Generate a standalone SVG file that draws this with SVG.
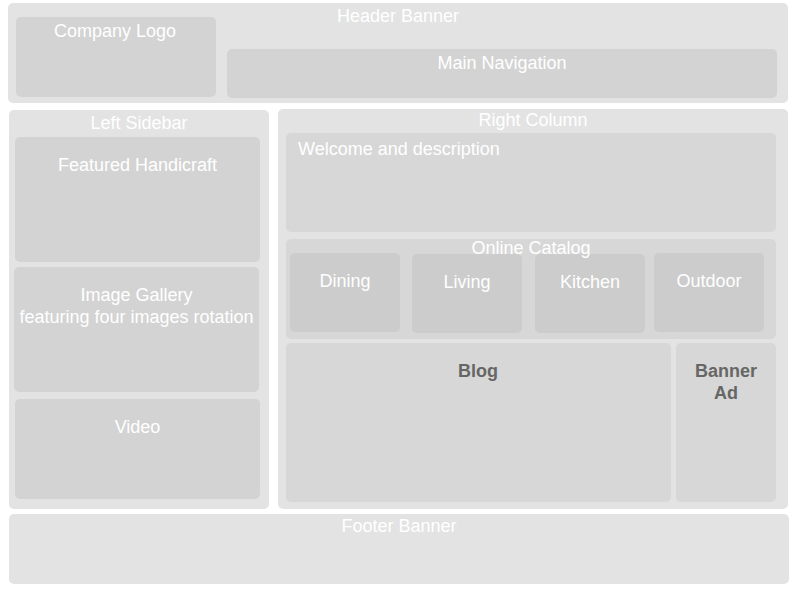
<svg xmlns="http://www.w3.org/2000/svg" width="800" height="599" viewBox="0 0 800 599">
<style>
.outer{fill:#e3e3e3}
.inner{fill:#d3d3d3}
.inner2{fill:#d7d7d7}
.item{fill:#cccccc}
text{font-family:"Liberation Sans",Arial,sans-serif;font-size:18px;fill:#ffffff;text-anchor:middle}
.dark{fill:#666666;font-weight:bold}
</style>
<rect width="800" height="599" fill="#ffffff"/>
<g id="header">
<rect class="outer" x="8" y="3" width="780" height="100" rx="5"/>
<text x="398" y="22">Header Banner</text>
</g>
<g id="logo">
<rect class="inner" x="16" y="17" width="200" height="80" rx="5"/>
<text x="115" y="37">Company Logo</text>
</g>
<g id="nav">
<rect class="inner" x="227" y="49" width="550" height="49" rx="5"/>
<text x="502" y="69">Main Navigation</text>
</g>
<g id="sidebar">
<rect class="outer" x="9" y="110" width="260" height="399" rx="5"/>
<text x="139" y="129">Left Sidebar</text>
</g>
<g id="featured">
<rect class="inner" x="15" y="137" width="245" height="125" rx="5"/>
<text x="137.5" y="171">Featured Handicraft</text>
</g>
<g id="gallery">
<rect class="inner" x="14" y="267" width="245" height="125" rx="5"/>
<text x="136.5" y="300.5">Image Gallery</text>
<text x="136.5" y="322.5">featuring four images rotation</text>
</g>
<g id="video">
<rect class="inner" x="15" y="399" width="245" height="100" rx="5"/>
<text x="137.5" y="433">Video</text>
</g>
<g id="rightcol">
<rect class="outer" x="278" y="109" width="510" height="400" rx="5"/>
<text x="533" y="126">Right Column</text>
</g>
<g id="welcome">
<rect class="inner2" x="286" y="133" width="490" height="99" rx="5"/>
<text x="298" y="155" style="text-anchor:start">Welcome and description</text>
</g>
<g id="catalog">
<rect class="inner2" x="286" y="239" width="490" height="100" rx="5"/>
</g>
<g id="dining">
<rect class="item" x="290" y="253" width="110" height="79" rx="5"/>
<text x="345" y="287">Dining</text>
</g>
<g id="living">
<rect class="item" x="412" y="254" width="110" height="79" rx="5"/>
<text x="467" y="288">Living</text>
</g>
<g id="kitchen">
<rect class="item" x="535" y="254" width="110" height="79" rx="5"/>
<text x="590" y="288">Kitchen</text>
</g>
<g id="outdoor">
<rect class="item" x="654" y="253" width="110" height="79" rx="5"/>
<text x="709" y="287">Outdoor</text>
</g>
<g id="catalog-label">
<text x="531" y="254">Online Catalog</text>
</g>
<g id="blog">
<rect class="inner2" x="286" y="343" width="385" height="159" rx="5"/>
<text class="dark" x="478" y="377">Blog</text>
</g>
<g id="bannerad">
<rect class="inner2" x="676" y="343" width="100" height="159" rx="5"/>
<text class="dark" x="726" y="377">Banner</text>
<text class="dark" x="726" y="399">Ad</text>
</g>
<g id="footer">
<rect class="outer" x="9" y="514" width="780" height="70" rx="5"/>
<text x="399" y="532">Footer Banner</text>
</g>
<g id="connectors"/>
</svg>
